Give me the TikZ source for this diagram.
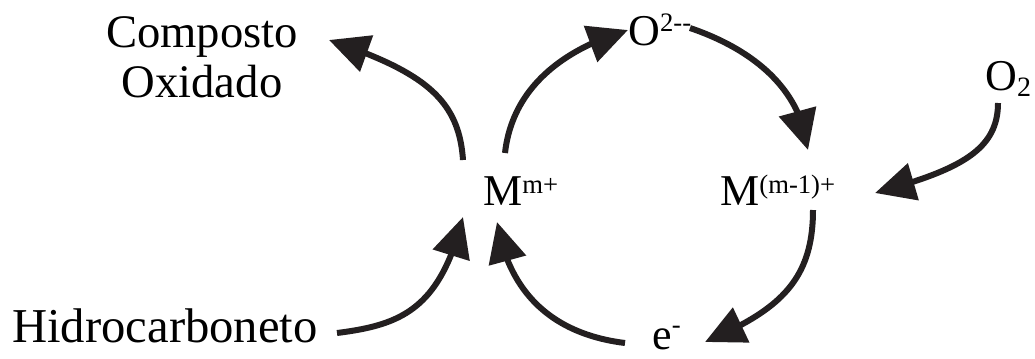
\documentclass[tikz,border=0pt]{standalone}
\usepackage{fontspec}
\setmainfont{Liberation Serif}
\usetikzlibrary{arrows.meta,bending}
\definecolor{ink}{HTML}{231F20}
\newcommand\supx[2][9pt]{\raisebox{#1}{\fontsize{20}{20}\selectfont #2}}
\newcommand\subx[1]{\raisebox{-5pt}{\fontsize{21}{21}\selectfont #1}}
\begin{document}
\begin{tikzpicture}[x=0.75pt,y=-0.75pt,
  lbl/.style={inner sep=0pt,text=black,font=\fontsize{35}{37.5}\selectfont},
  chem/.style={inner sep=0pt,text=black,font=\fontsize{33}{36}\selectfont},
  flow/.style={draw=ink,line width=4.5pt,-{Triangle[length=30pt,width=28pt,flex]}}]
\useasboundingbox (0,0) rectangle (1035,358);
% labels
\node[lbl,anchor=base,align=center] (co) at (202,97) {Composto\\Oxidado};
\node[lbl,anchor=base west,font=\fontsize{36.5}{40}\selectfont] (hc) at (12,342) {Hidrocarboneto};
\node[chem,anchor=base west] (mm) at (483,205) {M\supx{m+}};
\node[chem,anchor=base west] (mm1) at (720,205) {M\supx{(m-1)+}};
\node[chem,anchor=base west] (ox) at (628,45) {O\supx[10pt]{2-{}-}};
\node[chem,anchor=base west] (e) at (652,349) {e\supx[12pt]{-}};
\node[chem,anchor=base west] (o2) at (985,90) {O\subx{2}};
% connector end points
\coordinate (a1s) at (463,160); \coordinate (a1e) at (329,40);
\coordinate (a2s) at (505,153); \coordinate (a2e) at (628,30);
\coordinate (a3s) at (690,28);  \coordinate (a3e) at (808,150);
\coordinate (a4s) at (998,103); \coordinate (a4e) at (875,193);
\coordinate (a5s) at (813,210); \coordinate (a5e) at (705,342);
\coordinate (a6s) at (625,343); \coordinate (a6e) at (497,222);
\coordinate (a7s) at (337,333); \coordinate (a7e) at (463,217);
% connectors
\draw[flow] (a1s) .. controls (459,100) and (425,72) .. (a1e);
\draw[flow] (a2s) .. controls (512,90) and (560,50) .. (a2e);
\draw[flow] (a3s) .. controls (740,45) and (800,80) .. (a3e);
\draw[flow] (a4s) .. controls (998,150) and (960,170) .. (a4e);
\draw[flow] (a5s) .. controls (813,280) and (780,310) .. (a5e);
\draw[flow] (a6s) .. controls (560,335) and (510,300) .. (a6e);
\draw[flow] (a7s) .. controls (400,325) and (440,310) .. (a7e);
\end{tikzpicture}
\end{document}
